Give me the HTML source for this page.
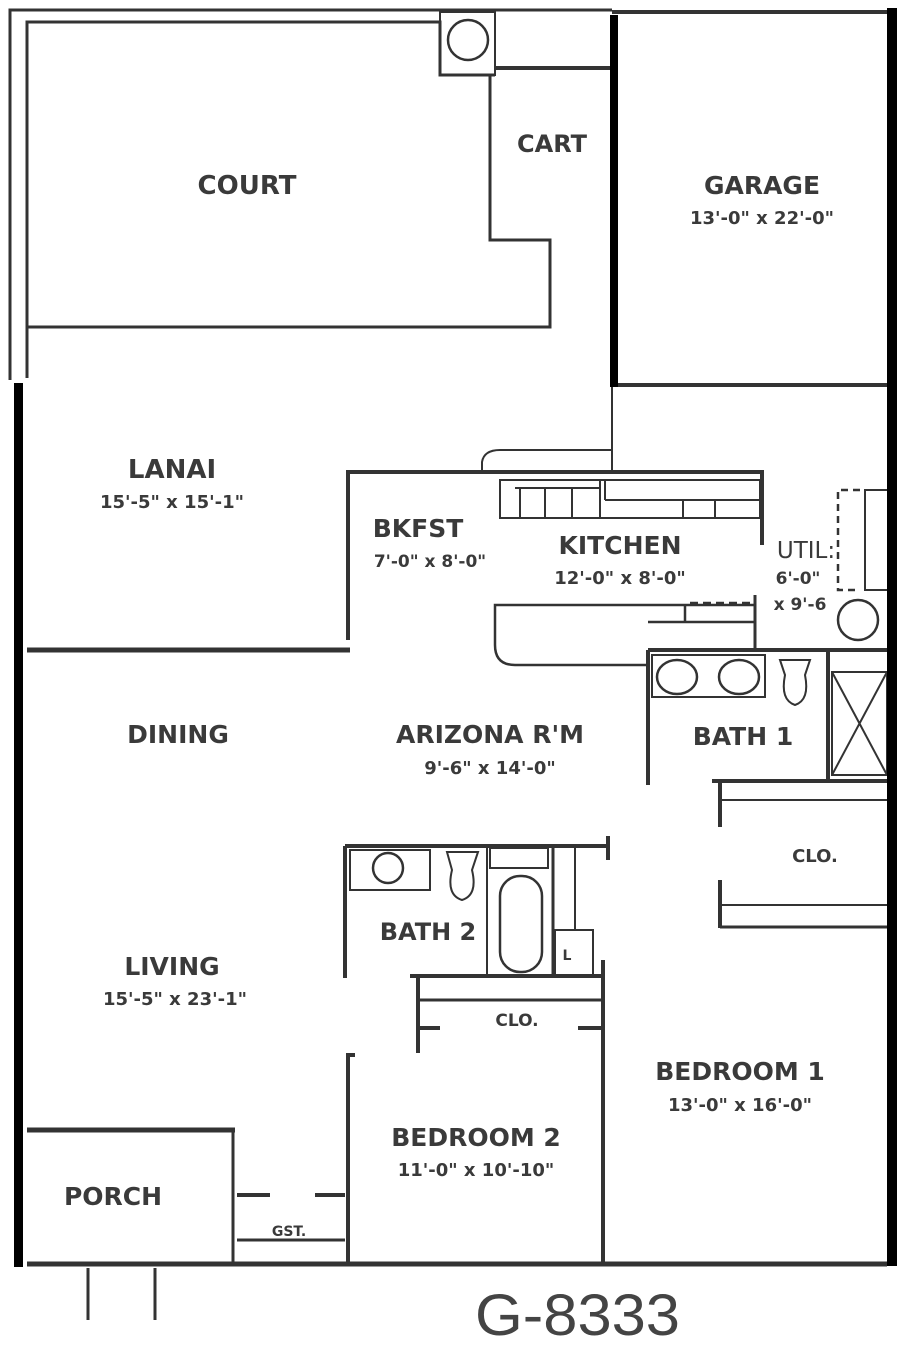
<!DOCTYPE html>
<html><head><meta charset="utf-8"><style>
html,body{margin:0;padding:0;background:#fff;}
svg{display:block}
text{font-family:"DejaVu Sans","Liberation Sans",sans-serif;font-weight:bold;fill:#3a3a3a;}
</style></head><body>
<svg width="906" height="1351" viewBox="0 0 906 1351" xmlns="http://www.w3.org/2000/svg">
<g fill="none" stroke="#333" stroke-width="3">
<polyline points="10,380 10,10 612,10"/>
<polyline points="27,378 27,22 440,22 440,75 495,75"/>
<rect x="440" y="12" width="55" height="63" stroke-width="2"/>
<circle cx="468" cy="40" r="20" stroke-width="2.5"/>
<line x1="495" y1="68" x2="612" y2="68" stroke-width="4"/>
<polyline points="490,75 490,240 550,240 550,327 27,327" stroke-width="3"/>
<line x1="612" y1="12" x2="887" y2="12" stroke-width="4"/>
<line x1="612" y1="385" x2="887" y2="385" stroke-width="4"/>
<line x1="612" y1="385" x2="612" y2="470" stroke-width="2"/>
<line x1="27" y1="650" x2="350" y2="650" stroke-width="5"/>
<polyline points="348,640 348,472 762,472 762,545" stroke-width="4"/>
<path d="M482,472 L482,462 Q484,450 500,450 L612,450" stroke-width="2"/>
<rect x="500" y="480" width="260" height="38" stroke-width="2"/>
<line x1="515" y1="488" x2="600" y2="488" stroke-width="2"/>
<line x1="520" y1="488" x2="520" y2="518" stroke-width="2"/>
<line x1="545" y1="488" x2="545" y2="518" stroke-width="2"/>
<line x1="572" y1="488" x2="572" y2="518" stroke-width="2"/>
<line x1="600" y1="480" x2="600" y2="518" stroke-width="2"/>
<line x1="605" y1="500" x2="760" y2="500" stroke-width="2"/>
<line x1="605" y1="480" x2="605" y2="500" stroke-width="2"/>
<line x1="683" y1="500" x2="683" y2="518" stroke-width="2"/>
<line x1="715" y1="500" x2="715" y2="518" stroke-width="2"/>
<path d="M755,605 L495,605 L495,645 Q495,665 515,665 L648,665" stroke-width="2.5"/>
<path d="M685,605 L685,622 M648,622 L755,622 L755,650" stroke-width="2.5"/>
<line x1="690" y1="603" x2="755" y2="603" stroke-dasharray="8,5" stroke-width="2.5"/>
<line x1="755" y1="595" x2="755" y2="650" stroke-width="3"/>
<path d="M860,490 L838,490 L838,590 L860,590" stroke-dasharray="7,5" stroke-width="2.5"/>
<rect x="865" y="490" width="25" height="100" stroke-width="2"/>
<circle cx="858" cy="620" r="20" stroke-width="2.5"/>
<line x1="648" y1="650" x2="887" y2="650" stroke-width="4"/>
<line x1="648" y1="650" x2="648" y2="785" stroke-width="4"/>
<rect x="652" y="655" width="113" height="42" stroke-width="2"/>
<ellipse cx="677" cy="677" rx="20" ry="17" stroke-width="2.5"/>
<ellipse cx="739" cy="677" rx="20" ry="17" stroke-width="2.5"/>
<path d="M780,660 L810,660 L805,675 Q810,700 795,705 Q780,700 785,675 Z" stroke-width="2"/>
<line x1="828" y1="650" x2="828" y2="780" stroke-width="4"/>
<rect x="832" y="672" width="55" height="103" stroke-width="2"/>
<line x1="832" y1="672" x2="887" y2="775" stroke-width="2"/>
<line x1="887" y1="672" x2="832" y2="775" stroke-width="2"/>
<line x1="712" y1="781" x2="887" y2="781" stroke-width="4"/>
<line x1="720" y1="800" x2="887" y2="800" stroke-width="2"/>
<line x1="720" y1="781" x2="720" y2="827" stroke-width="4"/>
<line x1="720" y1="880" x2="720" y2="928" stroke-width="4"/>
<line x1="720" y1="905" x2="887" y2="905" stroke-width="2"/>
<line x1="720" y1="927" x2="887" y2="927" stroke-width="3"/>
<line x1="345" y1="846" x2="610" y2="846" stroke-width="4"/>
<line x1="608" y1="836" x2="608" y2="860" stroke-width="4"/>
<line x1="345" y1="846" x2="345" y2="978" stroke-width="4"/>
<rect x="350" y="850" width="80" height="40" stroke-width="2"/>
<circle cx="388" cy="868" r="15" stroke-width="2.5"/>
<path d="M447,852 L478,852 L472,870 Q478,895 462,900 Q446,895 452,870 Z" stroke-width="2"/>
<line x1="487" y1="846" x2="487" y2="975" stroke-width="2"/>
<rect x="490" y="848" width="58" height="20" stroke-width="2"/>
<rect x="500" y="876" width="42" height="96" rx="20" stroke-width="2.5"/>
<line x1="553" y1="846" x2="553" y2="975" stroke-width="3"/>
<line x1="575" y1="846" x2="575" y2="930" stroke-width="2"/>
<rect x="555" y="930" width="38" height="45" stroke-width="2"/>
<line x1="410" y1="976" x2="605" y2="976" stroke-width="4"/>
<line x1="603" y1="960" x2="603" y2="1262" stroke-width="4"/>
<line x1="418" y1="1000" x2="603" y2="1000" stroke-width="3"/>
<line x1="418" y1="976" x2="418" y2="1053" stroke-width="4"/>
<line x1="418" y1="1028" x2="440" y2="1028" stroke-width="4"/>
<line x1="578" y1="1028" x2="603" y2="1028" stroke-width="4"/>
<polyline points="355,1055 348,1055 348,1262" stroke-width="4"/>
<line x1="27" y1="1130" x2="235" y2="1130" stroke-width="5"/>
<line x1="233" y1="1130" x2="233" y2="1262" stroke-width="3"/>
<line x1="237" y1="1195" x2="270" y2="1195" stroke-width="4"/>
<line x1="315" y1="1195" x2="345" y2="1195" stroke-width="4"/>
<line x1="237" y1="1240" x2="345" y2="1240" stroke-width="3"/>
<line x1="27" y1="1264" x2="887" y2="1264" stroke-width="5"/>
<line x1="88" y1="1268" x2="88" y2="1320" stroke-width="3"/>
<line x1="155" y1="1268" x2="155" y2="1320" stroke-width="3"/>
</g>
<rect x="14" y="383" width="9" height="884" fill="#000"/>
<rect x="887" y="8" width="10" height="1258" fill="#000"/>
<rect x="610" y="15" width="8" height="372" fill="#000"/>
<g text-anchor="middle">
<text x="247" y="194" font-size="26">COURT</text>
<text x="552" y="152" font-size="24">CART</text>
<text x="762" y="194" font-size="25">GARAGE</text>
<text x="762" y="224" font-size="18">13'-0" x 22'-0"</text>
<text x="172" y="478" font-size="26">LANAI</text>
<text x="172" y="508" font-size="18">15'-5" x 15'-1"</text>
<text x="418" y="537" font-size="25">BKFST</text>
<text x="430" y="567" font-size="17">7'-0" x 8'-0"</text>
<text x="620" y="554" font-size="25">KITCHEN</text>
<text x="620" y="584" font-size="18">12'-0" x 8'-0"</text>
<text x="806" y="558" font-size="23" style="font-weight:normal">UTIL:</text>
<text x="798" y="584" font-size="17">6'-0"</text>
<text x="800" y="610" font-size="17">x 9'-6</text>
<text x="178" y="743" font-size="25">DINING</text>
<text x="490" y="743" font-size="25">ARIZONA R'M</text>
<text x="490" y="774" font-size="18">9'-6" x 14'-0"</text>
<text x="743" y="745" font-size="25">BATH 1</text>
<text x="815" y="862" font-size="18">CLO.</text>
<text x="428" y="940" font-size="24">BATH 2</text>
<text x="567" y="960" font-size="14">L</text>
<text x="517" y="1026" font-size="17">CLO.</text>
<text x="172" y="975" font-size="25">LIVING</text>
<text x="175" y="1005" font-size="18">15'-5" x 23'-1"</text>
<text x="740" y="1080" font-size="25">BEDROOM 1</text>
<text x="740" y="1111" font-size="18">13'-0" x 16'-0"</text>
<text x="476" y="1146" font-size="25">BEDROOM 2</text>
<text x="476" y="1176" font-size="18">11'-0" x 10'-10"</text>
<text x="113" y="1205" font-size="25">PORCH</text>
<text x="289" y="1236" font-size="14">GST.</text>
</g>
<text x="475" y="1335" font-size="58" textLength="205" lengthAdjust="spacingAndGlyphs" style="font-weight:normal;font-family:'Liberation Sans',sans-serif;fill:#444">G-8333</text>
</svg>
</body></html>
